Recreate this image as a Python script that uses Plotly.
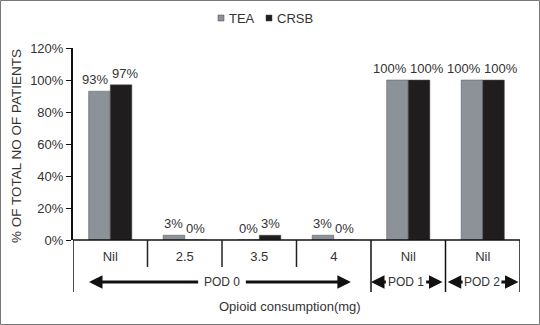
import plotly.graph_objects as go

categories = ["Nil", "2.5", "3.5", "4", "Nil", "Nil"]
tea = [93, 3, 0, 3, 100, 100]
crsb = [97, 0, 3, 0, 100, 100]
series_names = ["TEA", "CRSB"]
y_ticks = [0, 20, 40, 60, 80, 100, 120]
groups = [("POD 0", -0.285, 1.2, 1.8, 3.23), ("POD 1", 3.5, 3.72, 4.22, 4.46), ("POD 2", 4.53, 4.75, 5.23, 5.48)]

x = list(range(len(categories)))
FONT = "Liberation Sans, Arial, sans-serif"
TEA_C = "#8d9298"
CRSB_C = "#201d1f"
LABEL_SIGN = {"TEA": -1, "CRSB": 1}

W, H = 540, 325
L, R, T, B = 73, 20, 48, 85
pw, ph = W - L - R, H - T - B

def py(pix):
    return (T + ph - pix) / ph

def px(pix):
    return (pix - L) / pw

fig = go.Figure()
ann = []
for name, vals, col in [(series_names[0], tea, TEA_C), (series_names[1], crsb, CRSB_C)]:
    fig.add_trace(go.Bar(
        x=x, y=vals, name=name, marker=dict(color=col, line=dict(color="#555", width=0.5)),
        showlegend=False, hoverinfo="x+y+name",
    ))
    for xi, v in zip(x, vals):
        txt = f"{v}%"
        shift = LABEL_SIGN[name] * (len(txt) * 3.6 + 4)
        ann.append(dict(text=txt, xref="x", yref="y", x=xi, y=v, xshift=shift, yshift=2,
                        xanchor="center", yanchor="bottom", showarrow=False,
                        font=dict(size=13, color="#333", family=FONT)))

shapes = []
shapes.append(dict(type="line", xref="paper", yref="paper", x0=0, x1=1, y0=0, y1=0, line=dict(color="#111", width=1.5)))
for b in [-0.5, 3.5, 4.5, 5.5]:
    shapes.append(dict(type="line", xref="x", yref="paper", x0=b, x1=b, y0=0, y1=py(292), line=dict(color="#111", width=1.5)))
for b in [0.5, 1.5, 2.5]:
    shapes.append(dict(type="line", xref="x", yref="paper", x0=b, x1=b, y0=0, y1=py(267), line=dict(color="#222", width=1.5)))
shapes.append(dict(type="rect", xref="paper", yref="paper", x0=px(0.5), x1=px(W - 0.5), y0=py(0.5), y1=py(H - 0.5), line=dict(color="#777", width=1)))
for lx, col in [(218, TEA_C), (266, CRSB_C)]:
    shapes.append(dict(type="rect", xref="paper", yref="paper", x0=px(lx), x1=px(lx + 6), y0=py(15), y1=py(21), fillcolor=col, line=dict(color="#444", width=0.5)))

ann.append(dict(text=series_names[0], xref="paper", yref="paper", x=px(227), y=py(18), xanchor="left", yanchor="middle", showarrow=False, font=dict(size=13, color="#333", family=FONT)))
ann.append(dict(text=series_names[1], xref="paper", yref="paper", x=px(275), y=py(18), xanchor="left", yanchor="middle", showarrow=False, font=dict(size=13, color="#333", family=FONT)))

ay = py(282)
for label, xl, tl, tr, xr in groups:
    ann.append(dict(text=label, xref="x", yref="paper", x=(tl + tr) / 2, y=ay, showarrow=False, yanchor="middle", font=dict(size=12, color="#333", family=FONT)))
    for head, tail in [(xl, tl), (xr, tr)]:
        ann.append(dict(text="", xref="x", yref="paper", x=head, y=ay, axref="x", ax=tail, ayref="pixel", ay=0,
                        showarrow=True, arrowhead=2, arrowsize=0.9, arrowwidth=3, arrowcolor="#111", standoff=0, startstandoff=0))

ann.append(dict(text="Opioid consumption(mg)", xref="paper", yref="paper", x=px(290), y=py(306), showarrow=False, yanchor="middle", font=dict(size=13, color="#333", family=FONT)))
ann.append(dict(text="% OF TOTAL NO OF PATIENTS", xref="paper", yref="paper", x=px(16), y=py(146), showarrow=False, textangle=-90, xanchor="center", yanchor="middle", font=dict(size=13.5, color="#333", family=FONT)))

fig.update_layout(
    width=W, height=H, margin=dict(l=L, r=R, t=T, b=B),
    paper_bgcolor="white", plot_bgcolor="white",
    barmode="group", bargap=0.42, bargroupgap=0,
    font=dict(family=FONT, color="#333"),
    shapes=shapes, annotations=ann,
    xaxis=dict(range=[-0.5, 5.5], tickvals=x, ticktext=categories, showline=False, showgrid=False, zeroline=False,
               ticks="outside", ticklen=4, tickcolor="rgba(0,0,0,0)", tickfont=dict(size=13, color="#333", family=FONT)),
    yaxis=dict(range=[0, 120], tickvals=y_ticks, ticktext=[f"{v}%" for v in y_ticks], showline=True, linecolor="#111", linewidth=2,
               ticks="outside", ticklen=5, tickcolor="#111", showgrid=False, zeroline=False,
               tickfont=dict(size=13, color="#333", family=FONT)),
)

fig.write_html("out.html", config={"displayModeBar": False},
               post_script="document.body.style.margin='0';document.body.style.padding='0';document.body.style.overflow='hidden';")
